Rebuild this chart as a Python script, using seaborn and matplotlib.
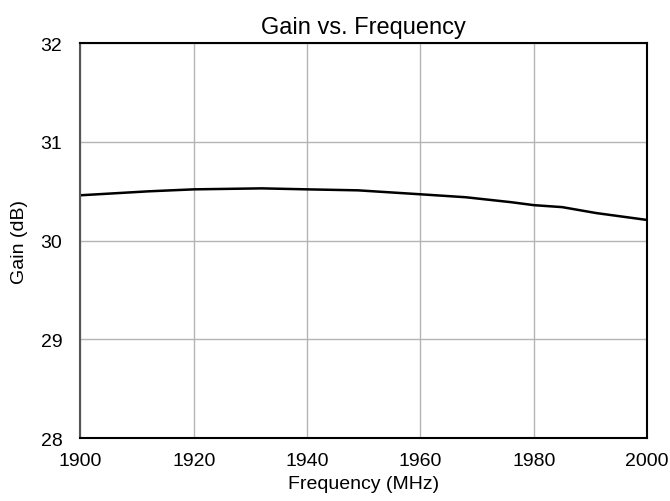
import pandas as pd
import seaborn as sns
import matplotlib.pyplot as plt

# Gain curve
freq_mhz = [1900, 1912, 1916, 1920, 1932, 1940, 1949, 1960, 1968, 1976, 1980, 1985, 1991, 2000]
gain_db = [30.46, 30.50, 30.51, 30.52, 30.53, 30.52, 30.51, 30.47, 30.44, 30.39, 30.36, 30.34, 30.28, 30.21]

x_ticks = [1900, 1920, 1940, 1960, 1980, 2000]
y_ticks = [28, 29, 30, 31, 32]

df = pd.DataFrame({'freq': freq_mhz, 'gain': gain_db})

sns.set_theme(style='white')
plt.rcParams['font.family'] = ['Liberation Sans', 'DejaVu Sans']
plt.rcParams['text.color'] = 'black'
plt.rcParams['axes.labelcolor'] = 'black'
plt.rcParams['xtick.color'] = 'black'
plt.rcParams['ytick.color'] = 'black'

fig = plt.figure(figsize=(6.7, 5.02), dpi=100)
ax = fig.add_axes([0.120, 0.125, 0.846, 0.787])

sns.lineplot(data=df, x='freq', y='gain', ax=ax, color='black', linewidth=1.8)

ax.set_xlim(1900, 2000)
ax.set_ylim(28, 32)
ax.set_xticks(x_ticks)
ax.set_yticks(y_ticks)
ax.grid(True, color='#b4b4b4', linewidth=1)
ax.tick_params(labelsize=14, length=0)
ax.tick_params(axis='x', pad=10)
ax.tick_params(axis='y', pad=13)

ax.set_title('Gain vs. Frequency', fontsize=17, pad=7)
ax.set_xlabel('Frequency (MHz)', fontsize=14, labelpad=4)
ax.set_ylabel('Gain (dB)', fontsize=14, labelpad=9)

for side in ['top', 'right', 'bottom']:
    ax.spines[side].set_color('black')
    ax.spines[side].set_linewidth(1.5)
ax.spines['left'].set_color('#555555')
ax.spines['left'].set_linewidth(1.5)

fig.savefig('out.png', dpi=100)
